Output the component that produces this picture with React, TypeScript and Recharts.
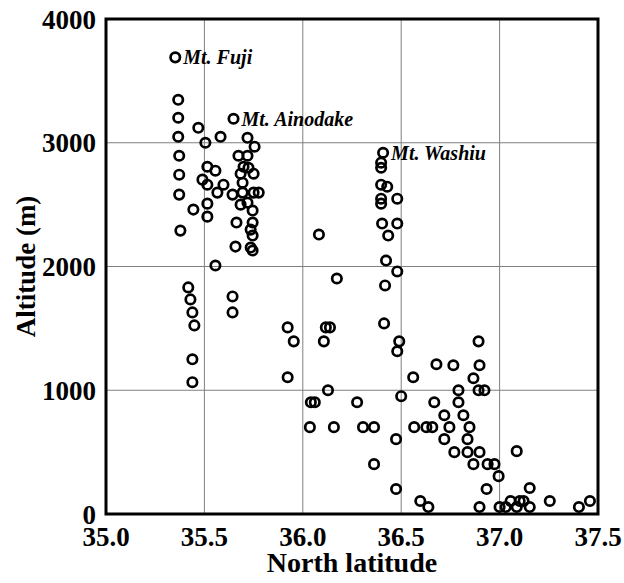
import { ScatterChart, Scatter, XAxis, YAxis, CartesianGrid, ReferenceArea, LabelList, Label } from 'recharts'

type Pt = [number, number]

// named peaks (latitude, altitude)
const peakNames = ['Mt. Fuji', 'Mt. Ainodake', 'Mt. Washiu']
const peakPoints: Pt[] = [
  [35.352, 3690],
  [35.648, 3194],
  [36.408, 2919],
]

// Fuji / Akaishi column and the cluster next to it
const southAlps: Pt[] = [
  [35.367, 3347], [35.367, 3202], [35.367, 3048], [35.372, 2895], [35.372, 2742],
  [35.372, 2581], [35.378, 2290], [35.469, 3121], [35.505, 3000], [35.582, 3048],
  [35.719, 3040], [35.755, 2968], [35.673, 2895], [35.719, 2895], [35.515, 2806],
  [35.556, 2774], [35.699, 2806], [35.724, 2798], [35.684, 2750], [35.75, 2750],
  [35.49, 2702], [35.515, 2661], [35.597, 2661], [35.566, 2597], [35.643, 2581],
  [35.694, 2677], [35.694, 2597], [35.75, 2597], [35.776, 2597], [35.719, 2516],
  [35.684, 2500], [35.444, 2460], [35.515, 2508], [35.515, 2403], [35.745, 2452],
  [35.663, 2355], [35.745, 2355], [35.735, 2298], [35.745, 2250], [35.658, 2161],
  [35.735, 2153], [35.745, 2129], [35.556, 2008],
]

// lower stations south of 36.0
const southLow: Pt[] = [
  [35.418, 1831], [35.429, 1734], [35.439, 1629], [35.449, 1524], [35.439, 1250],
  [35.439, 1065], [35.643, 1758], [35.643, 1629], [35.923, 1508], [35.954, 1395],
  [35.923, 1105],
]

// Washiu column
const northAlps: Pt[] = [
  [36.398, 2839], [36.398, 2798], [36.398, 2661], [36.429, 2645], [36.398, 2548],
  [36.398, 2508], [36.48, 2548], [36.403, 2347], [36.48, 2347], [36.434, 2250],
  [36.423, 2048], [36.48, 1960], [36.418, 1847], [36.413, 1540], [36.49, 1395],
  [36.48, 1315], [36.5, 952], [36.474, 605], [36.474, 202],
]

const central: Pt[] = [
  [36.082, 2258], [36.173, 1903], [36.117, 1508], [36.138, 1508], [36.107, 1395],
  [36.128, 1000], [36.041, 903], [36.061, 903], [36.276, 903], [36.036, 702],
  [36.158, 702], [36.306, 702], [36.362, 702], [36.362, 403],
]

const northLow: Pt[] = [
  [36.679, 1210], [36.765, 1202], [36.898, 1202], [36.893, 1395], [36.561, 1105],
  [36.867, 1097], [36.791, 1000], [36.893, 1000], [36.923, 1000], [36.668, 903],
  [36.791, 903], [36.719, 798], [36.816, 798], [36.566, 702], [36.628, 702],
  [36.658, 702], [36.745, 702], [36.847, 702], [36.719, 605], [36.837, 605],
  [36.77, 500], [36.837, 500], [36.898, 500], [36.867, 403], [36.939, 403],
  [36.974, 403], [36.995, 306], [36.934, 202], [36.597, 105], [36.638, 56],
  [36.898, 56], [37.087, 508], [37.153, 210], [37.0, 56], [37.031, 56],
  [37.056, 105], [37.102, 105], [37.122, 105], [37.087, 56], [37.153, 56],
  [37.255, 105], [37.459, 105], [37.403, 56],
]

const xTicks = [35.0, 35.5, 36.0, 36.5, 37.0, 37.5]
const yTicks = [0, 1000, 2000, 3000, 4000]

const FONT = "'Liberation Serif', 'Times New Roman', serif"

const toRows = (pts: Pt[]) => pts.map(([lat, alt]) => ({ lat, alt }))
const stations = toRows([...southAlps, ...southLow, ...northAlps, ...central, ...northLow])
const peaks = peakPoints.map(([lat, alt], i) => ({ lat, alt, name: peakNames[i] }))

const ring = (props: any) => (
  <circle cx={props.cx} cy={props.cy} r={4.7} fill="none" stroke="#000" strokeWidth={2.7} />
)

const tickStyle = { fill: '#000', fontSize: 27, fontWeight: 'bold', fontFamily: FONT }

export default function App() {
  return (
    <div style={{ position: 'absolute', left: 0, top: 0, width: 624, height: 583, background: '#fff' }}>
      <ScatterChart width={624} height={583} margin={{ top: 19, right: 26, left: 0, bottom: 0 }}>
        <CartesianGrid stroke="#808080" strokeWidth={1} />
        <XAxis
          type="number"
          dataKey="lat"
          domain={[35, 37.5]}
          ticks={xTicks}
          tickFormatter={(v: number) => v.toFixed(1)}
          axisLine={false}
          tickLine={false}
          tickSize={0}
          tickMargin={13}
          height={69}
          tick={tickStyle}
          interval={0}
          allowDataOverflow
        >
          <Label
            content={({ viewBox }: any) => (
              <text
                x={viewBox.x + viewBox.width / 2}
                y={viewBox.y + viewBox.height - 11}
                textAnchor="middle"
                fontFamily={FONT}
                fontSize={28}
                fontWeight="bold"
                fill="#000"
              >
                North latitude
              </text>
            )}
          />
        </XAxis>
        <YAxis
          type="number"
          dataKey="alt"
          domain={[0, 4000]}
          ticks={yTicks}
          axisLine={false}
          tickLine={false}
          tickSize={0}
          tickMargin={10}
          width={106}
          tick={tickStyle}
          interval={0}
          allowDataOverflow
        >
          <Label
            content={({ viewBox }: any) => {
              const cx = viewBox.x + 26
              const cy = viewBox.y + viewBox.height / 2
              return (
                <text
                  x={cx}
                  y={cy}
                  transform={`rotate(-90 ${cx} ${cy})`}
                  textAnchor="middle"
                  dominantBaseline="central"
                  fontFamily={FONT}
                  fontSize={27}
                  fontWeight="bold"
                  fill="#000"
                >
                  Altitude (m)
                </text>
              )
            }}
          />
        </YAxis>
        <ReferenceArea x1={35} x2={37.5} y1={0} y2={4000} fill="none" stroke="#000" strokeWidth={3} ifOverflow="visible" />
        <Scatter data={stations} shape={ring} isAnimationActive={false} />
        <Scatter data={peaks} shape={ring} isAnimationActive={false}>
          <LabelList
            dataKey="name"
            position="right"
            offset={3.5}
            style={{ fontFamily: FONT, fontSize: 20, fontWeight: 'bold', fontStyle: 'italic', fill: '#000' }}
          />
        </Scatter>
      </ScatterChart>
    </div>
  )
}
